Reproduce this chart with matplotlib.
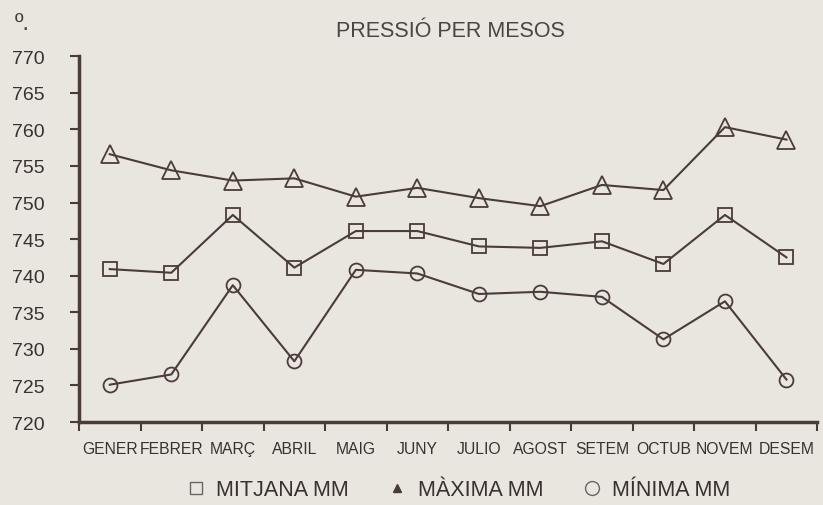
import matplotlib
matplotlib.use("Agg")
import matplotlib.pyplot as plt
from matplotlib.lines import Line2D

mesos = ["GENER", "FEBRER", "MARÇ", "ABRIL", "MAIG", "JUNY", "JULIO",
         "AGOST", "SETEM", "OCTUB", "NOVEM", "DESEM"]
maxima = [756.6, 754.4, 753.0, 753.3, 750.8, 752.0, 750.6, 749.5, 752.4, 751.7, 760.3, 758.6]
mitjana = [740.9, 740.4, 748.3, 741.1, 746.1, 746.1, 744.0, 743.8, 744.7, 741.6, 748.3, 742.5]
minima = [725.1, 726.5, 738.7, 728.3, 740.8, 740.3, 737.5, 737.8, 737.1, 731.3, 736.5, 725.8]
yticks = list(range(720, 771, 5))

bg = "#e9e6e0"
ink = "#4b3b39"
sans = ["Liberation Sans", "DejaVu Sans"]

fig = plt.figure(figsize=(8.23, 5.06), dpi=100, facecolor=bg)
ax = fig.add_axes([0.096, 0.164, 0.897, 0.723], facecolor=bg)

x = list(range(len(mesos)))
kw = dict(color=ink, lw=1.5, mfc="none", mec=ink, mew=1.3)
ax.plot(x, maxima, marker="^", ms=13, **kw)
ax.plot(x, mitjana, marker="s", ms=10, **kw)
ax.plot(x, minima, marker="o", ms=10, **kw)

ax.set_xlim(-0.5, 11.5)
ax.set_ylim(720, 770)
for s in ["top", "right"]:
    ax.spines[s].set_visible(False)
for s in ["left", "bottom"]:
    ax.spines[s].set_linewidth(2.5)
    ax.spines[s].set_color(ink)

# major ticks sit between months, labels on the minor ticks at the centres
ax.set_xticks([i - 0.5 for i in range(13)])
ax.set_xticks(x, minor=True)
ax.set_xticklabels([])
ax.set_xticklabels(mesos, minor=True, family=sans, fontsize=11.3, color="#3a302e")
ax.tick_params(axis="x", which="major", length=6.5, width=1.5, color=ink, direction="out")
ax.tick_params(axis="x", which="minor", length=0, pad=14)

ax.set_yticks(yticks)
ax.set_yticklabels([str(v) for v in yticks], family=sans, fontsize=14, color="#3a302e")
ax.tick_params(axis="y", length=6.5, width=1.5, color=ink, pad=18.5)

fig.text(0.547, 0.938, "PRESSIÓ PER MESOS", ha="center", va="center",
         family=sans, fontsize=15.5, color="#4a4442")
fig.text(0.018, 0.952, "º.", ha="left", va="center", family=sans,
         fontsize=17, color="#4a3a38")

handles = [
    Line2D([], [], ls="none", marker="s", ms=9, mfc="none", mec="#6a6462", mew=1),
    Line2D([], [], ls="none", marker="^", ms=5.5, mfc="#4a3a38", mec="#4a3a38"),
    Line2D([], [], ls="none", marker="o", ms=10, mfc="none", mec="#6a6462", mew=1),
]
fig.legend(handles, ["MITJANA MM", "MÀXIMA MM", "MÍNIMA MM"], loc="center",
           bbox_to_anchor=(0.556, 0.03), ncol=3, frameon=False,
           prop={"family": sans, "size": 15.5}, labelcolor="#3a302e",
           handletextpad=0.45, columnspacing=1.75, handlelength=1.0,
           borderpad=0.1)

fig.savefig("out.png", dpi=100, facecolor=bg)
